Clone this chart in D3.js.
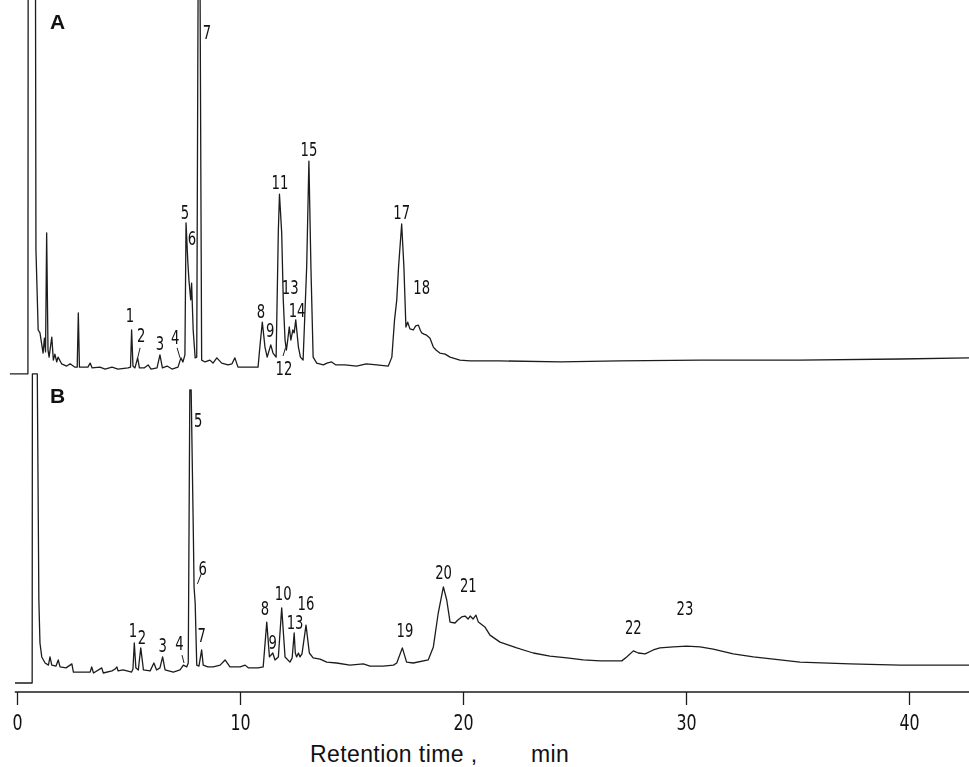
<!DOCTYPE html>
<html>
<head>
<meta charset="utf-8">
<script src="https://cdn.jsdelivr.net/npm/d3@7"></script>
<style>
  html, body { margin: 0; padding: 0; background: #fff; }
  svg { display: block; }
  .trace { fill: none; stroke: #1c1c1c; stroke-width: 1.3; stroke-linejoin: round; }
  .labels { opacity: 0.999; }
  .peak { font-family: "DejaVu Sans", sans-serif; font-size: 20px; fill: #111; }
  .leader { stroke: #1c1c1c; stroke-width: 1; }
  .panel { font-family: "Liberation Sans", Arial, sans-serif; font-size: 21px; font-weight: bold; fill: #111; }
  .axis { opacity: 0.999; }
  .axis text { font-family: "DejaVu Sans", sans-serif; font-size: 22px; fill: #111; }
  .axis line { stroke: #1c1c1c; stroke-width: 1.3; }
  .xlabel { font-family: "Liberation Sans", Arial, sans-serif; font-size: 23px; fill: #111; letter-spacing: 0.4px; }
</style>
</head>
<body>
<script>
// retention time ticks (min)
const timeTicks = [0, 10, 20, 30, 40];

// trace A: [time (min), relative response (% of panel)]
const traceA = [
  [-0.32, -0.5], [0.49, -0.5], [0.50, 102], [0.83, 102], [0.85, 32.8], [0.95, 11.3],
  [1.03, 10.5], [1.17, 5.1], [1.23, 9.1], [1.28, 5.4], [1.33, 37.4], [1.39, 5.9],
  [1.44, 4.0], [1.56, 9.4], [1.63, 3.2], [1.70, 4.8], [1.78, 2.7], [1.84, 4.0],
  [2.00, 2.2], [2.23, 1.6], [2.38, 2.2], [2.60, 1.3], [2.70, 1.3], [2.75, 15.9],
  [2.80, 1.3], [3.18, 1.3], [3.28, 2.4], [3.37, 1.1], [3.72, 1.3], [3.95, 0.8],
  [4.26, 1.3], [4.53, 0.8], [4.98, 1.1], [5.09, 1.3], [5.14, 11.3], [5.20, 1.6],
  [5.29, 1.1], [5.41, 3.8], [5.49, 1.1], [5.70, 1.1], [5.88, 1.9], [6.01, 0.8],
  [6.28, 1.1], [6.41, 4.6], [6.52, 1.1], [6.73, 1.6], [6.95, 0.8], [7.22, 1.3],
  [7.35, 3.8], [7.44, 2.7], [7.53, 4.6], [7.58, 40.1], [7.66, 29.6], [7.71, 24.7],
  [7.79, 19.4], [7.83, 23.9], [7.90, 11.3], [7.99, 3.8], [8.06, 4.0], [8.12, 102],
  [8.21, 102], [8.28, 3.2], [8.43, 2.7], [8.65, 3.2], [8.79, 2.4], [8.96, 3.8],
  [9.18, 2.4], [9.46, 1.9], [9.64, 2.2], [9.77, 3.8], [9.91, 1.3], [10.45, 1.3],
  [10.81, 1.3], [10.89, 6.7], [11.00, 13.4], [11.12, 6.7], [11.22, 4.0], [11.38, 7.3],
  [11.48, 5.1], [11.62, 4.0], [11.72, 38.2], [11.77, 47.8], [11.87, 37.4], [11.94, 19.4],
  [12.02, 8.6], [12.08, 5.9], [12.13, 8.1], [12.21, 12.1], [12.28, 8.6], [12.37, 11.3],
  [12.43, 10.5], [12.50, 14.0], [12.62, 6.7], [12.71, 4.0], [12.83, 3.2], [12.99, 28.2],
  [13.09, 56.7], [13.18, 28.2], [13.28, 4.0], [13.44, 2.4], [13.74, 1.9], [13.90, 2.4],
  [14.11, 2.7], [14.30, 1.9], [14.71, 1.9], [15.23, 1.6], [15.66, 2.2], [16.13, 1.9],
  [16.65, 1.6], [16.81, 4.0], [16.93, 14.0], [17.03, 19.4], [17.11, 28.2], [17.25, 39.8],
  [17.35, 28.2], [17.44, 12.1], [17.52, 13.4], [17.62, 11.6], [17.77, 11.3], [17.88, 12.4],
  [18.00, 12.6], [18.08, 11.3], [18.15, 10.5], [18.25, 10.2], [18.37, 9.9], [18.52, 9.1],
  [18.67, 6.7], [18.79, 5.9], [18.96, 5.1], [19.20, 4.8], [19.42, 4.0], [19.86, 3.2],
  [20.32, 3.0], [21.65, 3.0], [24.37, 2.7], [27.00, 3.0], [30.63, 3.2], [35.07, 3.2],
  [39.61, 3.5], [42.74, 3.8]
];

// trace B: [time (min), relative response (% of panel)]
const traceB = [
  [-0.09, 0], [0.68, 0], [0.69, 102], [0.91, 102], [0.98, 27.4], [1.03, 13.2],
  [1.11, 8.6], [1.26, 6.6], [1.41, 5.9], [1.48, 8.6], [1.56, 5.9], [1.75, 5.6],
  [1.85, 7.6], [1.93, 5.3], [2.20, 5.0], [2.46, 6.3], [2.53, 3.6], [3.28, 3.6],
  [3.35, 5.3], [3.43, 3.3], [3.80, 5.0], [3.87, 3.3], [4.26, 4.0], [4.40, 4.6],
  [4.48, 5.3], [4.53, 4.0], [4.76, 4.3], [5.14, 3.6], [5.20, 4.6], [5.26, 13.2],
  [5.33, 5.0], [5.44, 4.3], [5.55, 11.6], [5.67, 4.3], [5.97, 4.0], [6.14, 6.6],
  [6.26, 4.3], [6.41, 5.0], [6.53, 8.6], [6.64, 4.3], [7.01, 3.6], [7.31, 4.3],
  [7.46, 5.9], [7.61, 5.3], [7.68, 6.6], [7.75, 96.7], [7.81, 96.7], [7.91, 48.2],
  [7.94, 31.7], [7.99, 26.4], [8.06, 5.9], [8.16, 5.6], [8.28, 10.9], [8.35, 5.9],
  [8.56, 5.3], [8.80, 5.3], [9.11, 5.9], [9.33, 7.6], [9.55, 5.3], [10.01, 5.3],
  [10.23, 5.9], [10.37, 5.0], [10.81, 5.0], [11.04, 5.3], [11.20, 20.1], [11.32, 8.6],
  [11.47, 9.9], [11.57, 7.6], [11.72, 8.6], [11.87, 24.8], [12.02, 8.6], [12.24, 6.9],
  [12.34, 8.3], [12.43, 16.5], [12.48, 9.9], [12.54, 8.6], [12.62, 9.9], [12.69, 8.6],
  [12.78, 9.6], [12.96, 19.1], [13.11, 9.9], [13.28, 8.3], [13.59, 7.9], [13.89, 6.9],
  [14.33, 6.6], [14.93, 5.9], [15.53, 6.3], [15.83, 5.6], [16.42, 5.6], [16.88, 5.9],
  [17.03, 6.6], [17.28, 11.6], [17.47, 6.9], [17.77, 6.6], [18.44, 7.6], [18.67, 11.9],
  [18.89, 23.1], [19.12, 31.7], [19.27, 27.4], [19.42, 20.1], [19.64, 19.8], [19.77, 20.8],
  [19.94, 21.8], [20.09, 22.1], [20.23, 21.1], [20.32, 22.1], [20.45, 21.1], [20.58, 22.4],
  [20.69, 20.1], [20.98, 18.5], [21.21, 15.8], [21.66, 13.5], [22.41, 11.6], [23.15, 9.9],
  [23.90, 8.9], [24.66, 8.3], [25.39, 7.6], [26.15, 7.3], [27.12, 7.3], [27.34, 8.6],
  [27.64, 10.6], [27.86, 9.9], [28.17, 9.6], [28.53, 10.9], [28.83, 11.6], [29.43, 11.9],
  [30.03, 12.2], [30.63, 11.9], [31.22, 11.2], [32.12, 9.6], [33.02, 8.6], [33.92, 7.9],
  [35.11, 6.9], [37.36, 6.3], [39.60, 5.9], [42.70, 5.9]
];

// peak numbers: [label, time, response]
const labelsA = [
  ["1", 5.07, 15.3], ["2", 5.57, 9.9], ["3", 6.41, 7.8], ["4", 7.09, 9.4],
  ["5", 7.53, 43.0], ["6", 7.84, 36.0], ["7", 8.52, 91.4], ["8", 10.94, 16.4],
  ["9", 11.35, 11.3], ["11", 11.79, 51.1], ["12", 11.97, 1.1], ["13", 12.25, 22.8],
  ["14", 12.56, 16.7], ["15", 13.09, 59.9], ["17", 17.25, 43.0], ["18", 18.15, 22.8]
];
const labelsB = [
  ["1", 5.20, 17.5], ["2", 5.60, 15.2], ["3", 6.53, 12.5], ["4", 7.28, 13.2],
  ["5", 8.13, 86.8], ["6", 8.33, 37.9], ["7", 8.28, 15.8], ["8", 11.12, 24.8],
  ["9", 11.47, 13.5], ["10", 11.94, 29.7], ["13", 12.47, 20.1], ["16", 12.96, 26.4],
  ["19", 17.40, 17.5], ["20", 19.13, 36.6], ["21", 20.24, 32.3], ["22", 27.64, 18.5],
  ["23", 29.95, 24.8]
];

// short pointer strokes: [t1, v1, t2, v2]
const leadersA = [[5.52, 6.5, 5.41, 3.8], [7.18, 6.5, 7.31, 3.8], [11.93, 4.3, 12.04, 6.5]];
const leadersB = [[8.28, 36.3, 8.09, 32.7], [7.40, 9.2, 7.49, 6.6]];

const width = 969, height = 767;

const svg = d3.select("body").append("svg")
  .attr("width", width)
  .attr("height", height);

const x = d3.scaleLinear().domain([0, 40]).range([17, 909]);
const yA = d3.scaleLinear().domain([0, 100]).range([372, 0]);
const yB = d3.scaleLinear().domain([0, 100]).range([683, 380]);

function drawPanel(data, labels, leaders, y, name, nameY) {
  const g = svg.append("g");
  const line = d3.line()
    .x(d => x(d[0]))
    .y(d => y(d[1]));

  g.append("path")
    .datum(data)
    .attr("class", "trace")
    .attr("d", line);

  // narrow digits like the original lettering
  g.append("g")
    .attr("class", "labels")
    .selectAll("text.peak")
    .data(labels)
    .enter()
    .append("text")
    .attr("class", "peak")
    .attr("text-anchor", "middle")
    .attr("dominant-baseline", "central")
    .attr("transform", d => `translate(${x(d[1])},${y(d[2])}) scale(0.66,1)`)
    .text(d => d[0]);

  g.selectAll("line.leader")
    .data(leaders)
    .enter()
    .append("line")
    .attr("class", "leader")
    .attr("x1", d => x(d[0]))
    .attr("y1", d => y(d[1]))
    .attr("x2", d => x(d[2]))
    .attr("y2", d => y(d[3]));

  g.append("text")
    .attr("class", "panel")
    .attr("x", 50)
    .attr("y", nameY)
    .text(name);
}

drawPanel(traceA, labelsA, leadersA, yA, "A", 29);
drawPanel(traceB, labelsB, leadersB, yB, "B", 403);

// time axis
const axisY = 692;
const axis = svg.append("g")
  .attr("class", "axis")
  .attr("transform", `translate(0,${axisY})`)
  .call(d3.axisBottom(x).tickValues(timeTicks).tickSize(13).tickPadding(9).tickFormat(d3.format("d")));

axis.select(".domain").remove();
axis.selectAll(".tick text").attr("transform", "scale(0.72,1)");
axis.append("line")
  .attr("x1", x(-0.1))
  .attr("x2", width)
  .attr("y1", 0)
  .attr("y2", 0);

const xlabel = svg.append("text")
  .attr("class", "xlabel")
  .attr("x", 310)
  .attr("y", 762);
xlabel.append("tspan").text("Retention time ,");
xlabel.append("tspan").attr("x", 531).text("min");
</script>
</body>
</html>
